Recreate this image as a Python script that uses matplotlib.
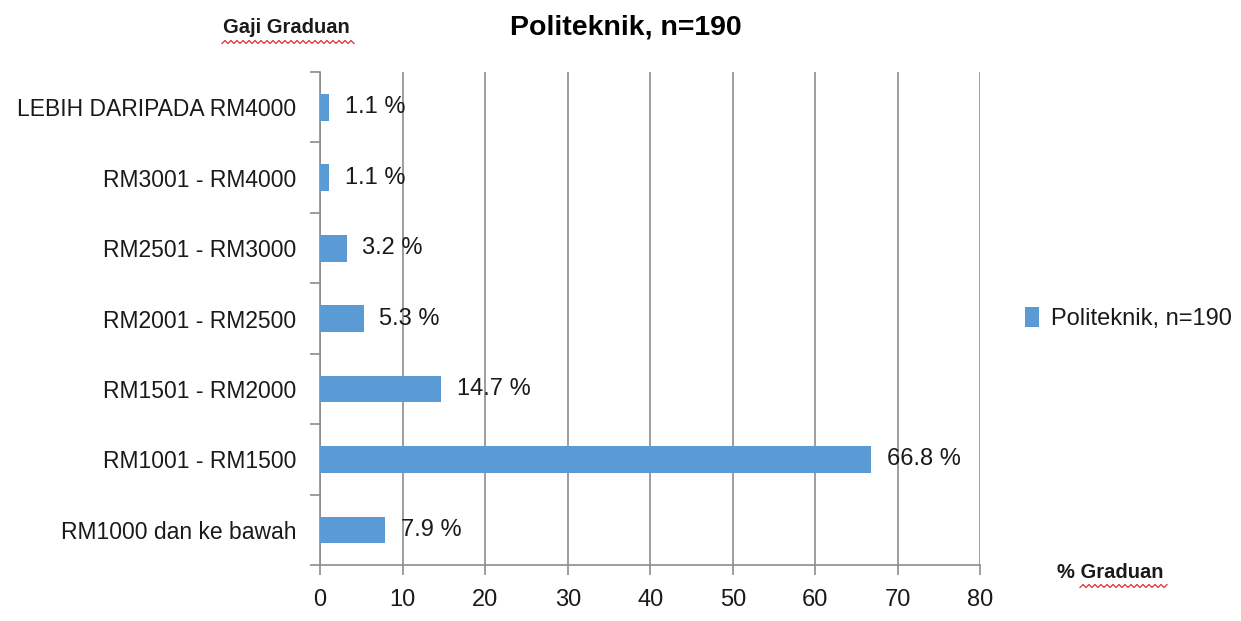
import numpy as np
import matplotlib.pyplot as plt
from matplotlib.lines import Line2D

plt.rcParams['font.family'] = ['Liberation Sans', 'DejaVu Sans']

categories = ['RM1000 dan ke bawah', 'RM1001 - RM1500', 'RM1501 - RM2000',
              'RM2001 - RM2500', 'RM2501 - RM3000', 'RM3001 - RM4000',
              'LEBIH DARIPADA RM4000']
values = [7.9, 66.8, 14.7, 5.3, 3.2, 1.1, 1.1]
series_name = 'Politeknik, n=190'
xticks = [0, 10, 20, 30, 40, 50, 60, 70, 80]

bar_color = '#5B9BD5'
grid_color = '#8c8c8c'
text_color = '#1a1a1a'

fig = plt.figure(figsize=(12.41, 6.21), dpi=100)
ax = fig.add_axes([0.258, 0.09, 0.532, 0.794])

y = np.arange(len(categories))
bars = ax.barh(y, values, height=0.38, color=bar_color, label=series_name, zorder=3)

for b, v in zip(bars, values):
    ax.annotate('%.1f %%' % v, (b.get_width(), b.get_y() + b.get_height() / 2),
                xytext=(11, 0), textcoords='offset points', va='center', ha='left',
                fontsize=17, color=text_color, zorder=4)

ax.set_xlim(0, 80)
ax.set_ylim(-0.5, len(categories) - 0.5)
ax.set_xticks(xticks)
ax.set_xticklabels([str(t) for t in xticks], fontsize=17, color=text_color)
ax.set_yticks(y)
ax.set_yticklabels(categories, fontsize=16.5, color=text_color)
ax.tick_params(axis='y', length=0, pad=17)
ax.set_yticks(np.arange(-0.5, len(categories), 1), minor=True)
ax.tick_params(axis='y', which='minor', length=7, color=grid_color, width=1.2)
ax.tick_params(axis='x', length=7, color=grid_color, width=1.2, pad=10)

ax.grid(axis='x', color=grid_color, linewidth=1.2, zorder=0)
for s in ['top', 'right']:
    ax.spines[s].set_visible(False)
for s in ['left', 'bottom']:
    ax.spines[s].set_color(grid_color)
    ax.spines[s].set_linewidth(1.2)

fig.text(0.504, 0.955, series_name, ha='center', va='center', fontsize=20.5,
         fontweight='bold', color='black')
fig.text(0.231, 0.955, 'Gaji Graduan', ha='center', va='center', fontsize=14.5,
         fontweight='bold', color=text_color)
fig.text(0.895, 0.078, '% Graduan', ha='center', va='center', fontsize=14.5,
         fontweight='bold', color=text_color)

# red spell-check squiggles under the axis titles
def squiggle(x0, x1, yy):
    xs = np.arange(x0, x1, 3.0)
    ys = yy + np.where(np.arange(len(xs)) % 2 == 0, 1.5, -1.5)
    fig.add_artist(Line2D(xs / 1241, 1 - ys / 621, color='#e03030', linewidth=0.9))

squiggle(222, 356, 42)
squiggle(1080, 1168, 586)

ax.legend(loc='center left', bbox_to_anchor=(1.035, 0.5), frameon=False,
          fontsize=17, handlelength=0.6, handleheight=0.9, handletextpad=0.5,
          labelcolor=text_color)

fig.savefig('out.png', dpi=100)
